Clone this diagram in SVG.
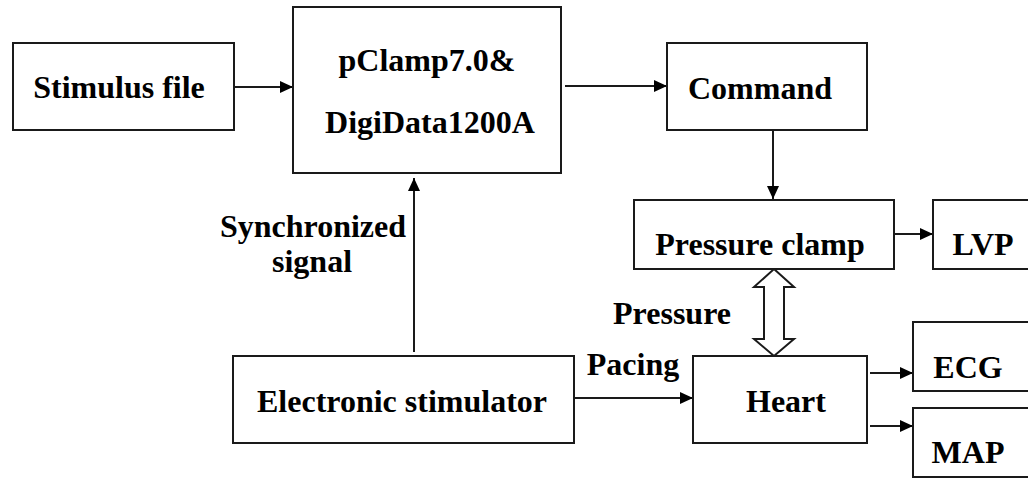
<svg xmlns="http://www.w3.org/2000/svg" width="1028" height="479" viewBox="0 0 1028 479" font-family="Liberation Serif" font-weight="bold" font-size="32">
<style>
.box{fill:#fff;stroke:#1a1a1a;stroke-width:2}
.t{fill:#000;text-anchor:middle}
.c{fill:none;stroke:#1a1a1a;stroke-width:2}
</style>
<defs>
<marker id="ah" markerUnits="userSpaceOnUse" markerWidth="14" markerHeight="12" refX="13" refY="6" orient="auto">
<path d="M0,0 L13,6 L0,12 z" fill="#000"/>
</marker>
</defs>
<rect width="1028" height="479" fill="#fff"/>
<g id="connectors">
<line class="c" x1="235" y1="87" x2="293" y2="87" marker-end="url(#ah)"/>
<line class="c" x1="565" y1="86" x2="667" y2="86" marker-end="url(#ah)"/>
<line class="c" x1="773" y1="131" x2="773" y2="199" marker-end="url(#ah)"/>
<line class="c" x1="894" y1="234" x2="933" y2="234" marker-end="url(#ah)"/>
<line class="c" x1="414" y1="352" x2="414" y2="178" marker-end="url(#ah)"/>
<line class="c" x1="575" y1="398" x2="693" y2="398" marker-end="url(#ah)"/>
<line class="c" x1="870" y1="373" x2="913" y2="373" marker-end="url(#ah)"/>
<line class="c" x1="870" y1="426" x2="913" y2="426" marker-end="url(#ah)"/>
<path d="M774,269 L794,287 L784,287 L784,339 L794,339 L774,356 L754,339 L764,339 L764,287 L754,287 Z" fill="#fff" stroke="#1a1a1a" stroke-width="2"/>
</g>
<g id="stimulus-file">
<rect class="box" x="13" y="43" width="221" height="87"/>
<text class="t" x="119" y="98">Stimulus file</text>
</g>
<g id="pclamp">
<rect class="box" x="293" y="7" width="268" height="166"/>
<text class="t" x="427" y="71">pClamp7.0&amp;</text>
<text class="t" x="430" y="133">DigiData1200A</text>
</g>
<g id="command">
<rect class="box" x="667" y="43" width="200" height="87"/>
<text class="t" x="760" y="99">Command</text>
</g>
<g id="pressure-clamp">
<rect class="box" x="634" y="200" width="260" height="69"/>
<text class="t" x="760" y="255">Pressure clamp</text>
</g>
<g id="lvp">
<rect class="box" x="933" y="200" width="110" height="69"/>
<text class="t" x="983" y="255">LVP</text>
</g>
<g id="electronic-stimulator">
<rect class="box" x="233" y="356" width="341" height="87"/>
<text class="t" x="402" y="412">Electronic stimulator</text>
</g>
<g id="heart">
<rect class="box" x="693" y="356" width="174" height="87"/>
<text class="t" x="786" y="412">Heart</text>
</g>
<g id="ecg">
<rect class="box" x="913" y="322" width="130" height="69"/>
<text class="t" x="968" y="378">ECG</text>
</g>
<g id="map">
<rect class="box" x="913" y="408" width="130" height="69"/>
<text class="t" x="968" y="463">MAP</text>
</g>
<g id="labels">
<text class="t" x="313" y="237">Synchronized</text>
<text class="t" x="312" y="272">signal</text>
<text class="t" x="672" y="324">Pressure</text>
<text class="t" x="633" y="375">Pacing</text>
</g>
</svg>
